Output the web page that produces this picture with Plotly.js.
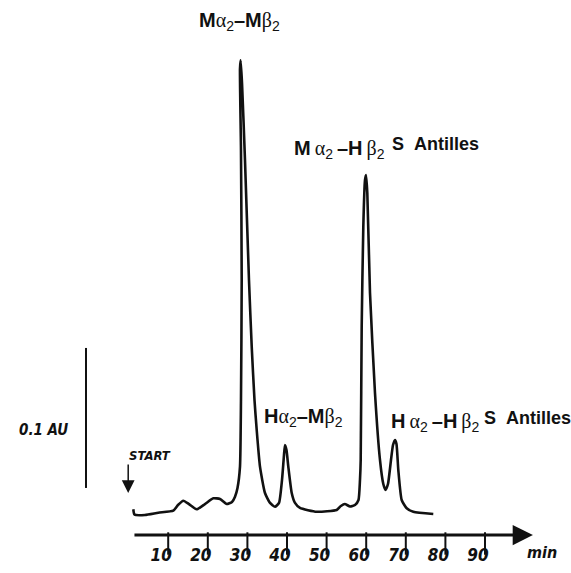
<!DOCTYPE html>
<html><head><meta charset="utf-8">
<script src="https://cdn.plot.ly/plotly-3.0.1.min.js"></script>
<style>html,body{margin:0;padding:0;background:#fff}</style>
</head><body><div id="chart" style="width:571px;height:573px"></div>
<script>
// Chromatogram trace: retention time (min) and absorbance (AU)
const timeMin = [1.19,1.49,4.14,7.50,11.29,12.47,13.81,15.25,17.20,19.29,21.39,23.08,24.77,26.11,26.87,27.5,28.13,28.38,28.56,28.38,28.13,28.30,28.64,29.39,30.40,31.09,31.79,32.35,33.18,34.44,35.71,36.97,37.98,38.74,39.24,39.49,39.87,40.33,41.19,42.02,43.28,47.50,52.55,53.6,54.6,55.9,57.17,58.05,58.43,58.61,58.86,59.27,59.70,59.95,60.28,60.96,62.22,63.48,64.32,64.87,65.5,66.26,66.77,67.27,67.65,68.11,68.96,70.23,71.89,76.94];
const absorbanceAU = [0.0184,0.0146,0.0143,0.0159,0.0174,0.0214,0.0245,0.0221,0.0184,0.0221,0.0262,0.0257,0.0221,0.0236,0.0274,0.0336,0.0488,0.0964,0.1821,0.275,0.333,0.339,0.3229,0.2679,0.1821,0.1345,0.0964,0.075,0.0488,0.030,0.0229,0.0202,0.0229,0.0393,0.0571,0.0643,0.0607,0.0488,0.030,0.0229,0.0193,0.0166,0.0179,0.0207,0.0221,0.0204,0.0214,0.025,0.0393,0.0536,0.1488,0.2202,0.2536,0.2571,0.2443,0.1729,0.1014,0.0536,0.0364,0.0321,0.0364,0.0536,0.0643,0.0679,0.065,0.0464,0.025,0.0191,0.0166,0.015];
const tickValues = [10,20,30,40,50,60,70,80,90];
const tickLabels = ['10','20','30','40','50','60','70','80','90'];
const axisUnit = 'min';
const scaleBarLabel = '0.1 AU';
const scaleBarAU = 0.1;
const startLabel = 'START';
const startTime = -0.1;
const axisEndTime = 102.1;
const axisStartTime = 1.1;

const G = s => `<span style="font-family:'Liberation Serif';font-weight:normal">${s}</span>`;
const T = '\u2009';
const peakLabelMain = [
  `<b>M</b>${G('α')}<sub>2</sub><b>–M</b>${G('β')}<sub>2</sub>`,
  `<b>H</b>${G('α')}<sub>2</sub><b>–M</b>${G('β')}<sub>2</sub>`,
  `<b>M</b>${T}${G('α')}<sub>2</sub>${T}<b>–H</b>${T}${G('β')}<sub>2</sub>`,
  `<b>H</b>${T}${G('α')}<sub>2</sub>${T}<b>–H</b>${T}${G('β')}<sub>2</sub>`
];
const peakLabelSuffix = ['', '', '<b>S</b>  <b>Antilles</b>', '<b>S</b>  <b>Antilles</b>'];

const W = 571, H = 573;
const px = x => x / W, py = y => 1 - y / H;
const boldF = {family: 'Liberation Sans, Arial, sans-serif', size: 20, color: '#111'};
const italF = (s) => ({family: 'Liberation Sans Narrow, DejaVu Sans Condensed, Liberation Sans, sans-serif', size: s, color: '#111', weight: 700, style: 'italic'});

const mainPos = [[197, 22], [262, 417], [292, 150], [389, 422]];
const sufPos = [null, null, [390, 144], [482, 418]];

const annotations = [];
peakLabelMain.forEach((t, i) => {
  annotations.push({xref: 'paper', yref: 'paper', x: px(mainPos[i][0]), y: py(mainPos[i][1]), xanchor: 'left', yanchor: 'middle', text: t, showarrow: false, font: boldF});
  if (peakLabelSuffix[i]) annotations.push({xref: 'paper', yref: 'paper', x: px(sufPos[i][0]), y: py(sufPos[i][1]), xanchor: 'left', yanchor: 'middle', text: peakLabelSuffix[i], showarrow: false, font: Object.assign({}, boldF, {size: 18})});
});
// time axis arrow
annotations.push({x: axisEndTime, y: 0, xref: 'x', yref: 'y', ax: axisStartTime, ay: 0, axref: 'x', ayref: 'y', text: '', showarrow: true, arrowhead: 2, arrowwidth: 3, arrowsize: 1.35, arrowcolor: '#111'});
annotations.push({xref: 'paper', yref: 'paper', x: px(525), y: py(552), xanchor: 'left', yanchor: 'middle', text: axisUnit, showarrow: false, font: italF(16)});
// start marker
annotations.push({x: startTime, y: 0.0300, xref: 'x', yref: 'y', ax: 0, ay: -30, text: '', showarrow: true, arrowhead: 2, arrowwidth: 1.5, arrowsize: 1.7, arrowcolor: '#111'});
annotations.push({xref: 'paper', yref: 'paper', x: px(127), y: py(455), xanchor: 'left', yanchor: 'middle', text: startLabel, showarrow: false, font: italF(13)});
annotations.push({xref: 'paper', yref: 'paper', x: px(17), y: py(430), xanchor: 'left', yanchor: 'middle', text: scaleBarLabel, showarrow: false, font: italF(15)});

const xRange = [(0 - 128.6) / 3.96, (W - 128.6) / 3.96];
const yRange = [(535 - H) / 1400, 535 / 1400];
const tickMarkY = (535 - 543.5) / 1400;

Plotly.newPlot('chart', [{
  x: timeMin, y: absorbanceAU, type: 'scatter', mode: 'lines',
  line: {color: '#111', width: 2.6, shape: 'spline', smoothing: 0.5}, hoverinfo: 'skip'
}, {
  x: tickValues, y: tickValues.map(() => tickMarkY), type: 'scatter', mode: 'markers',
  marker: {symbol: 'line-ns', size: 16, line: {width: 2, color: '#111'}}, hoverinfo: 'skip'
}], {
  width: W, height: H, margin: {l: 0, r: 0, t: 0, b: 0},
  paper_bgcolor: '#fff', plot_bgcolor: '#fff', showlegend: false,
  xaxis: {range: xRange, showgrid: false, zeroline: false, showline: false,
    anchor: 'free', position: py(535), ticks: '', 
    tickvals: tickValues, ticktext: tickLabels, tickfont: italF(17), ticklabelshift: -7, ticklabelstandoff: 8},
  yaxis: {range: yRange, visible: false},
  shapes: [{type: 'line', xref: 'x', yref: 'y', x0: -10.76, x1: -10.76, y0: 0.0336, y1: 0.0336 + scaleBarAU, line: {color: '#111', width: 2}}],
  annotations: annotations
}, {staticPlot: true, displayModeBar: false});
</script></body></html>
